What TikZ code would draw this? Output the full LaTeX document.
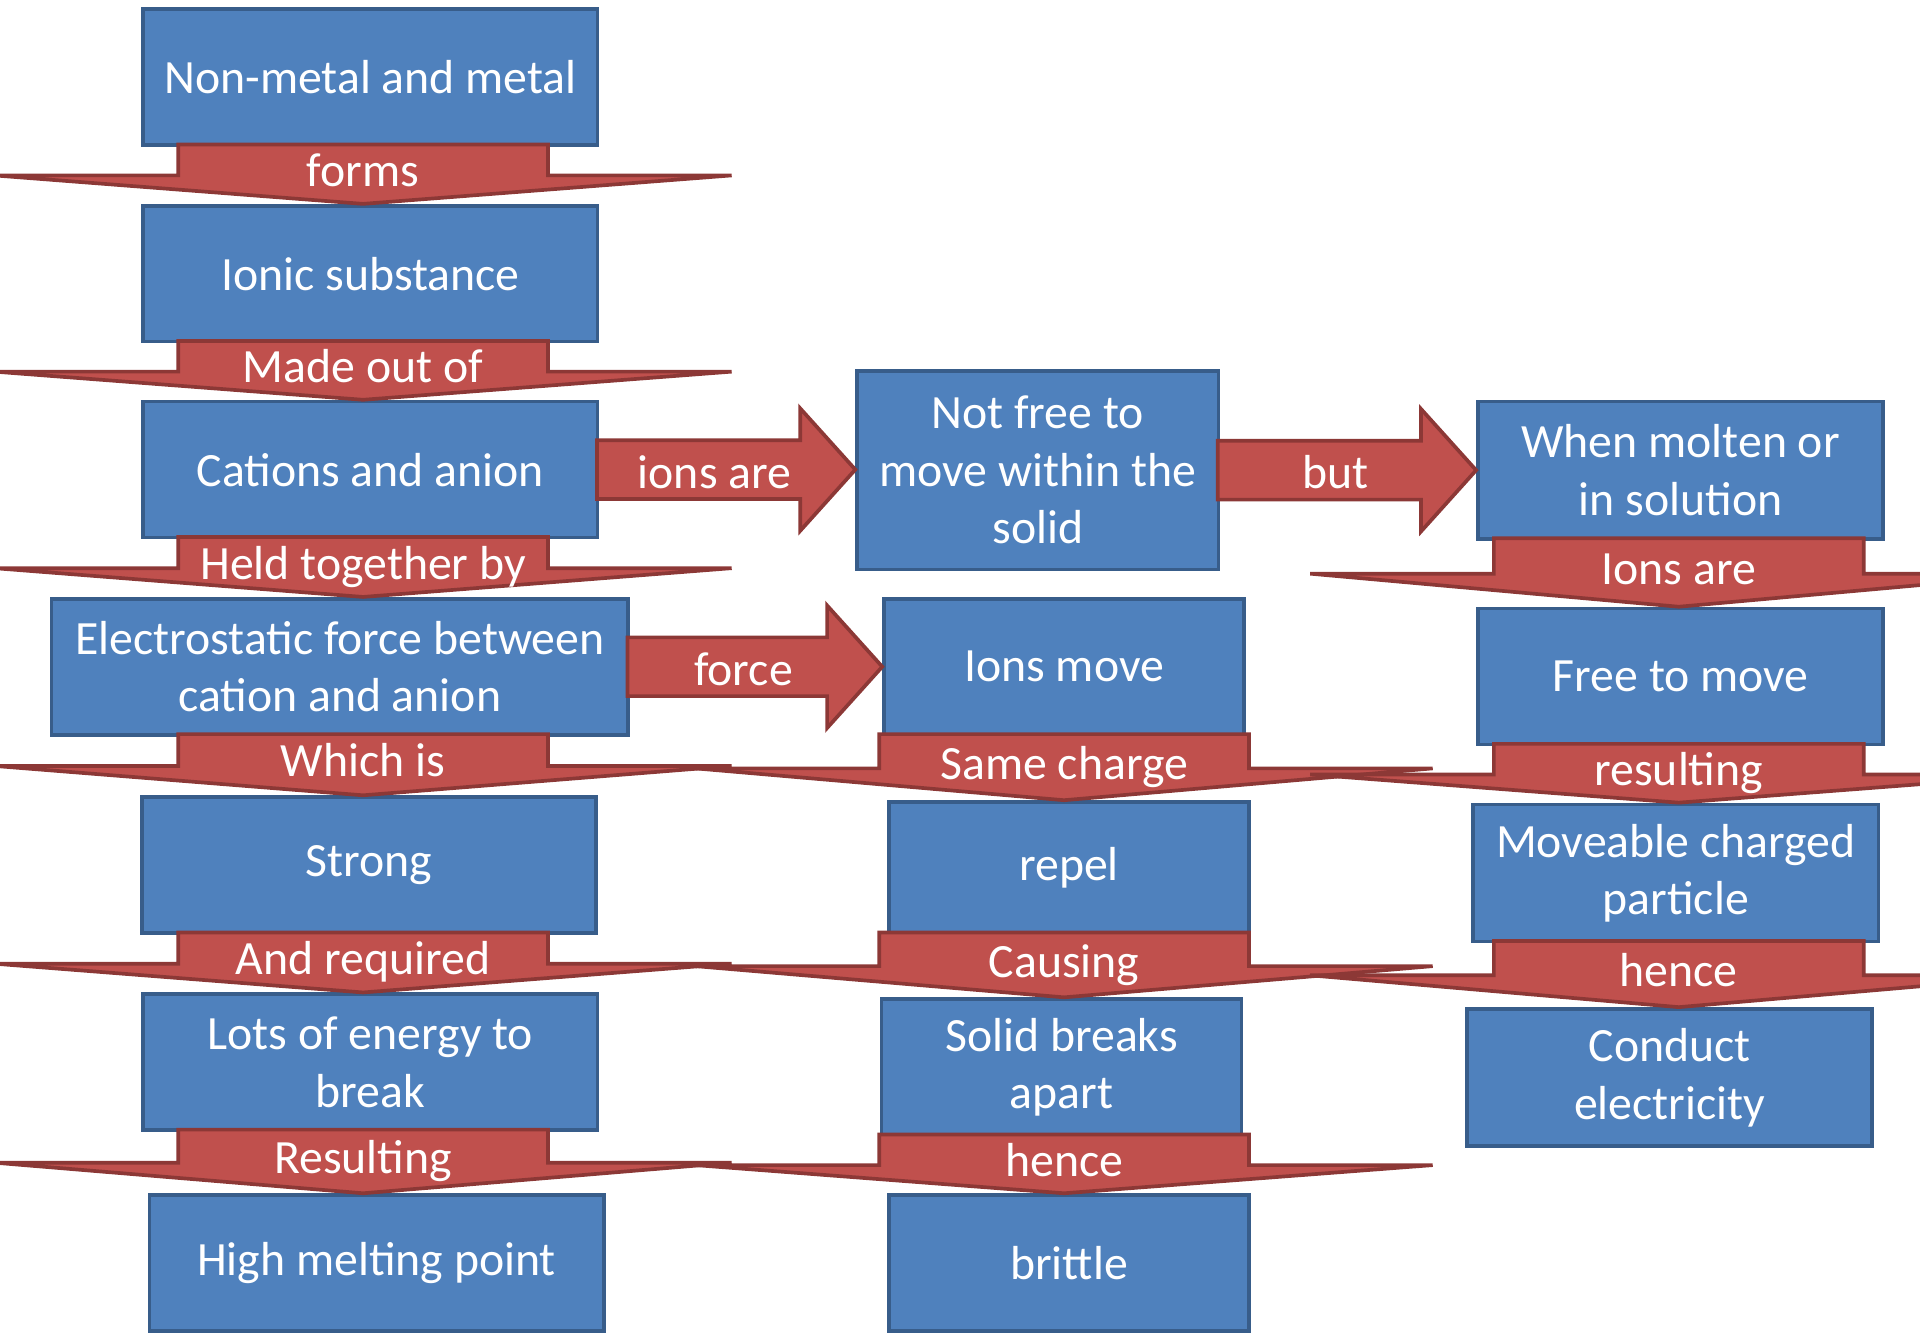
\documentclass[tikz,border=0pt]{standalone}
\usepackage{fontspec}
\setmainfont{Carlito}
\usetikzlibrary{calc}
\definecolor{boxblue}{HTML}{4F81BD}
\definecolor{boxedge}{HTML}{385D8A}
\definecolor{flowred}{HTML}{C0504D}
\definecolor{flowedge}{HTML}{8C3836}
\tikzset{
	cbox/.style={draw=boxedge, fill=boxblue, line width=3pt, text=white, align=center,
		font=\fontsize{39}{47}\selectfont, minimum width=371pt, minimum height=111pt, inner sep=0pt},
	flowarr/.style={draw=flowedge, fill=flowred, line width=3pt},
	flowlbl/.style={text=white, font=\fontsize{39}{47}\selectfont, anchor=base, inner sep=0pt}
}
% block arrow pointing down: column, from, to, label name, text
\newcommand{\downflow}[5]{%
	\draw[flowarr] let \p1=(#1), \p2=(#2.south), \p3=(#3.north), \n1={(\y2+\y3)/2} in
		(\x1-151pt,\y2+2pt) -- (\x1-151pt,\n1) -- (\x1-301pt,\n1) -- (\x1,\y3)
		-- (\x1+301pt,\n1) -- (\x1+151pt,\n1) -- (\x1+151pt,\y2+2pt) -- cycle;
	\path let \p1=(#1), \p2=(#2.south), \p3=(#3.north), \n1={(\y2+\y3)/2} in
		node[flowlbl] (#4) at (\x1,\n1-9) {#5};
}
% block arrow pointing right: from, to, label name, text
\newcommand{\sideflow}[4]{%
	\draw[flowarr] let \p1=(#1.east), \p2=(#2.west) in
		(\x1-2pt,\y1+24pt) -- (\x2-45pt,\y1+24pt) -- (\x2-45pt,\y1+50pt) -- (\x2,\y1)
		-- (\x2-45pt,\y1-50pt) -- (\x2-45pt,\y1-24pt) -- (\x1-2pt,\y1-24pt) -- cycle;
	\node[flowlbl] (#3) at ($(#1.east)!0.45!(#2.west)+(0,-15)$) {#4};
}

\begin{document}
\begin{tikzpicture}[x=1pt, y=1pt]
	\useasboundingbox (0,0) rectangle (1568,-1089);
	% column axes for the down arrows
	\coordinate (k1) at (296.5,0);
	\coordinate (k2) at (869,0);
	\coordinate (k3) at (1371,0);

	% left column
	\node[cbox] (metal) at (302.5,-63) {Non-metal and metal};
	\node[cbox] (ionic) at (302.5,-223.5) {Ionic substance};
	\node[cbox] (cations) at (302.5,-383.5) {Cations and anion};
	\node[cbox, minimum width=471pt] (electro) at (277.5,-544.5) {Electrostatic force between\\cation and anion};
	\node[cbox] (strong) at (301.5,-706.5) {Strong};
	\node[cbox] (energy) at (302.5,-867.5) {Lots of energy to\\break};
	\node[cbox] (melting) at (307.5,-1031.5) {High melting point};

	% middle column
	\node[cbox, minimum width=295pt, minimum height=162pt] (notfree) at (847.5,-384) {Not free to\\move within the\\solid};
	\node[cbox, minimum width=294pt] (move) at (869,-544.5) {Ions move};
	\node[cbox, minimum width=294pt, minimum height=107pt] (repel) at (873,-708.5) {repel};
	\node[cbox, minimum width=294pt] (breaks) at (867,-871.5) {Solid breaks\\apart};
	\node[cbox, minimum width=294pt] (brittle) at (873,-1031.5) {brittle};

	% right column
	\node[cbox, minimum width=331pt, minimum height=112pt] (molten) at (1372.5,-384) {When molten or\\in solution};
	\node[cbox, minimum width=331pt] (free) at (1372.5,-552.5) {Free to move};
	\node[cbox, minimum width=331pt, minimum height=112pt] (charged) at (1368.5,-713) {Moveable charged\\particle};
	\node[cbox, minimum width=331pt, minimum height=112pt] (conduct) at (1363.5,-880) {Conduct\\electricity};

	% arrows
	\downflow{k1}{metal}{ionic}{forms}{forms}
	\downflow{k1}{ionic}{cations}{madeof}{Made out of}
	\downflow{k1}{cations}{electro}{held}{Held together by}
	\downflow{k1}{electro}{strong}{whichis}{Which is}
	\downflow{k1}{strong}{energy}{required}{And required}
	\downflow{k1}{energy}{melting}{resulting}{Resulting}
	\downflow{k2}{move}{repel}{samecharge}{Same charge}
	\downflow{k2}{repel}{breaks}{causing}{Causing}
	\downflow{k2}{breaks}{brittle}{hencea}{hence}
	\downflow{k3}{molten}{free}{ionsare}{Ions are}
	\downflow{k3}{free}{charged}{resultingb}{resulting}
	\downflow{k3}{charged}{conduct}{henceb}{hence}
	\sideflow{cations}{notfree}{areions}{ions are}
	\sideflow{notfree}{molten}{but}{but}
	\sideflow{electro}{move}{force}{force}
\end{tikzpicture}
\end{document}
